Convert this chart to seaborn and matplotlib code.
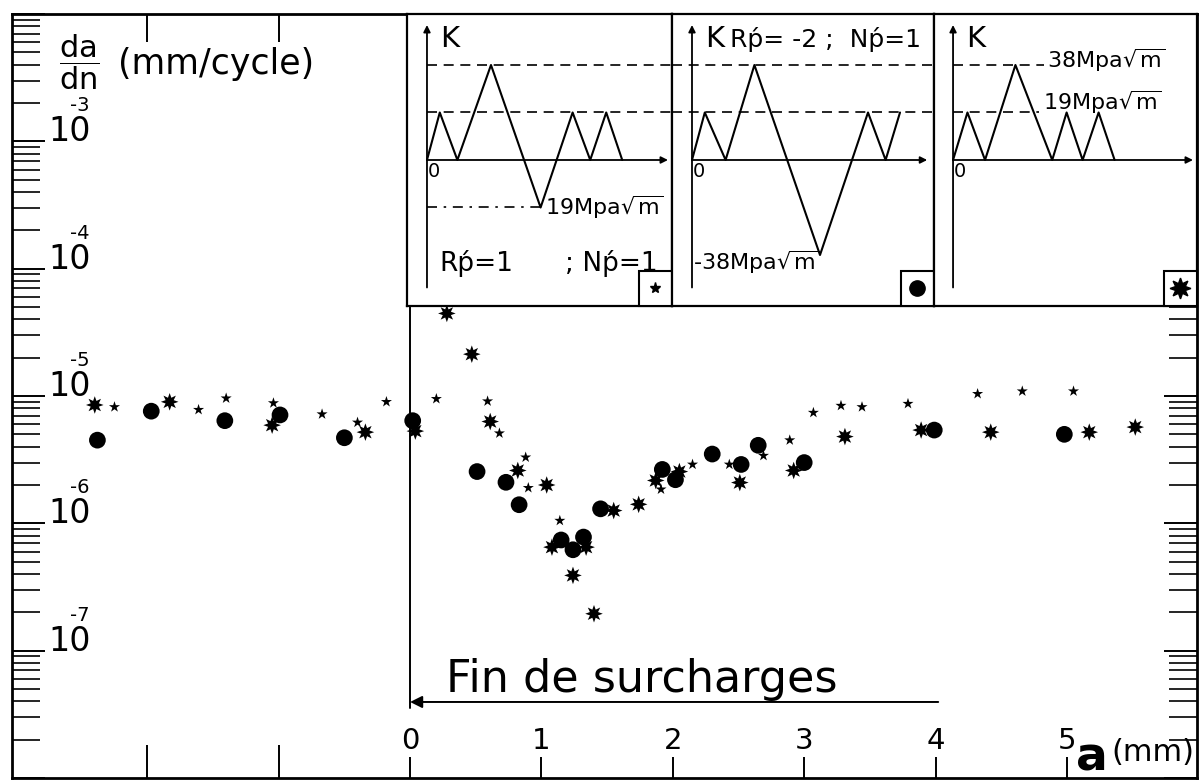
import numpy as np
import pandas as pd
import matplotlib
matplotlib.use("Agg")
import matplotlib.pyplot as plt
from matplotlib.lines import Line2D
from matplotlib.ticker import LogLocator, NullFormatter, FuncFormatter
import seaborn as sns

# ---------------------------------------------------------------------------
# Crack growth rate da/dn (mm/cycle) versus crack length a (mm), measured
# from the end of the overload sequence, for three overload ratios R'p.
# ---------------------------------------------------------------------------
a_rp1 = [-2.25, -1.61, -1.40, -1.04, -0.67, -0.40, -0.18, 0.20, 0.59, 0.68,
         0.88, 0.90, 1.14, 1.91, 2.15, 2.43, 2.69, 2.89, 3.07, 3.28, 3.44,
         3.79, 4.32, 4.66, 5.05]
v_rp1 = [8.2e-6, 7.8e-6, 9.6e-6, 8.8e-6, 7.2e-6, 6.2e-6, 9.0e-6, 9.5e-6,
         9.1e-6, 5.1e-6, 3.3e-6, 1.9e-6, 1.05e-6, 1.85e-6, 2.9e-6, 2.9e-6,
         3.4e-6, 4.5e-6, 7.4e-6, 8.4e-6, 8.2e-6, 8.7e-6, 1.04e-5, 1.09e-5,
         1.09e-5]

a_rpm2 = [-2.38, -1.97, -1.41, -0.99, -0.50, 0.02, 0.51, 0.73, 0.83, 1.15,
          1.24, 1.32, 1.45, 1.92, 2.02, 2.30, 2.52, 2.65, 3.00, 3.99, 4.98]
v_rpm2 = [4.5e-6, 7.6e-6, 6.4e-6, 7.1e-6, 4.7e-6, 6.4e-6, 2.55e-6, 2.1e-6,
          1.4e-6, 7.4e-7, 6.2e-7, 7.8e-7, 1.3e-6, 2.65e-6, 2.2e-6, 3.5e-6,
          2.9e-6, 4.1e-6, 3.0e-6, 5.4e-6, 5.0e-6]

a_rp0 = [-2.40, -1.83, -1.05, -0.34, 0.04, 0.28, 0.47, 0.61, 0.82, 1.04,
         1.08, 1.34, 1.24, 1.40, 1.55, 1.74, 1.87, 2.05, 2.51, 2.92, 3.31,
         3.89, 4.42, 5.17, 5.52]
v_rp0 = [8.5e-6, 9.0e-6, 5.9e-6, 5.2e-6, 5.3e-6, 4.45e-5, 2.13e-5, 6.3e-6,
         2.6e-6, 2.0e-6, 6.5e-7, 6.5e-7, 3.9e-7, 1.95e-7, 1.26e-6, 1.41e-6,
         2.17e-6, 2.55e-6, 2.09e-6, 2.6e-6, 4.8e-6, 5.4e-6, 5.2e-6, 5.2e-6,
         5.7e-6]

x_ticks = [-2, -1, 0, 1, 2, 3, 4, 5]
x_ticklabels = ["", "", "0", "1", "2", "3", "4", "5"]
y_label_exponents = [-3, -4, -5, -6, -7]

# Loading sequences K(t) (MPa*sqrt(m)) drawn in the three insets
t_seq1 = [0, 0.8, 1.9, 4.0, 7.1, 9.1, 10.2, 11.2, 12.2]
k_seq1 = [0, 19, 0, 38, -19, 19, 0, 19, 0]
t_seq2 = [0, 0.8, 2.1, 3.9, 8.0, 11.0, 12.1, 13.0]
k_seq2 = [0, 19, 0, 38, -38, 19, 0, 19]
t_seq3 = [0, 0.9, 2.0, 3.9, 6.2, 7.1, 8.1, 9.1, 10.1]
k_seq3 = [0, 19, 0, 38, 0, 19, 0, 19, 0]

# ---------------------------------------------------------------------------
sns.set_style("white")
plt.rcParams["font.family"] = ["DejaVu Sans"]
plt.rcParams["mathtext.fontset"] = "dejavusans"
for key in ("text.color", "axes.labelcolor", "xtick.color", "ytick.color",
            "axes.edgecolor"):
    plt.rcParams[key] = "black"

fig = plt.figure(figsize=(12.03, 7.82), dpi=100)
ax = fig.add_axes([0.00998, 0.00512, 0.98504, 0.97698])

df = pd.concat([
    pd.DataFrame({"a": a_rp1, "dadn": v_rp1, "essai": "Rp=1"}),
    pd.DataFrame({"a": a_rpm2, "dadn": v_rpm2, "essai": "Rp=-2"}),
    pd.DataFrame({"a": a_rp0, "dadn": v_rp0, "essai": "Rp=0"}),
], ignore_index=True)

MARKERS = {"Rp=1": "*", "Rp=-2": "o", "Rp=0": (8, 1, 0)}
SIZES = {"Rp=1": 70, "Rp=-2": 145, "Rp=0": 160}

sns.scatterplot(data=df, x="a", y="dadn", style="essai", size="essai",
                markers=MARKERS, sizes=SIZES, color="black",
                edgecolor="black", linewidth=0, legend=False, ax=ax, zorder=3)

ax.set_yscale("log")
ax.set_xlim(-3.03, 5.99)
ax.set_ylim(1e-8, 1e-2)
ax.set_xlabel("")
ax.set_ylabel("")

for s in ax.spines.values():
    s.set_linewidth(2.0)
    s.set_color("black")

# x axis: ticks inside, labels above the bottom ticks
ax.set_xticks(x_ticks, labels=x_ticklabels)
ax.tick_params(axis="x", which="major", direction="in", length=15, width=1.4,
               top=True, bottom=True, labelsize=21, pad=-37,
               colors="black")
for i, tick in enumerate(ax.xaxis.get_major_ticks()):
    tick.tick2line.set_markersize(20)
    if x_ticklabels[i] == "":
        tick.tick1line.set_markersize(24)

# y axis: logarithmic, labels drawn inside the frame
ax.yaxis.set_major_locator(LogLocator(base=10, numticks=20))
ax.yaxis.set_minor_locator(LogLocator(base=10, subs=np.arange(2, 10), numticks=20))
ax.yaxis.set_major_formatter(FuncFormatter(
    lambda v, p: "10" if int(round(np.log10(v))) in y_label_exponents else ""))
ax.yaxis.set_minor_formatter(NullFormatter())
ax.tick_params(axis="y", which="major", direction="in", length=24, width=1.4,
               left=True, right=True, labelsize=24, pad=-26, colors="black")
ax.tick_params(axis="y", which="minor", direction="in", length=20, width=1.2,
               left=True, right=True, colors="black")
for lab in ax.get_yticklabels():
    lab.set_horizontalalignment("left")
    lab.set_verticalalignment("baseline")

ytrans = ax.get_yaxis_transform()
for e in y_label_exponents:
    ax.annotate(f"{e}", xy=(0, 10.0 ** e), xycoords=ytrans,
                xytext=(42, 21.5), textcoords="offset points",
                ha="left", va="baseline", fontsize=14)

ax.text(0.040, 0.937, r"$\dfrac{\mathrm{da}}{\mathrm{dn}}$",
        transform=ax.transAxes, fontsize=22, ha="left", va="center")
ax.text(0.0895, 0.934, "(mm/cycle)",
        transform=ax.transAxes, fontsize=25, ha="left", va="center")

# end of overloads marker
xtrans = ax.get_xaxis_transform()
ax.axvline(0, ymin=0.092, ymax=1, color="black", lw=1.4, zorder=2)
ax.annotate("", xy=(0, 0.0995), xytext=(4.02, 0.0995),
            xycoords=xtrans, textcoords=xtrans,
            arrowprops=dict(arrowstyle="-|>", color="black", lw=1.4,
                            shrinkA=0, shrinkB=0, mutation_scale=18))
ax.text(0.27, 0.1126, "Fin de surcharges", transform=xtrans,
        fontsize=32, ha="left", va="baseline")

ax.text(5.06, 0.028, r"$\mathbf{a}$", transform=xtrans, fontsize=34,
        ha="left", va="center")
ax.text(5.34, 0.033, "(mm)", transform=xtrans, fontsize=22,
        ha="left", va="center")


# ---------------------------------------------------------------------------
def draw_panel(rect, xlim, t, k, t_axis_end, marker, msize):
    pax = fig.add_axes(rect)
    pax.set_facecolor("white")
    pax.set_xlim(*xlim)
    pax.set_ylim(-58.4, 58.4)
    pax.set_xticks([])
    pax.set_yticks([])
    for s in pax.spines.values():
        s.set_linewidth(1.6)
        s.set_color("black")
    sns.lineplot(x=t, y=k, ax=pax, color="black", lw=1.5, sort=False,
                 estimator=None)
    pax.set_xlabel("")
    pax.set_ylabel("")
    arrow = dict(arrowstyle="-|>", color="black", lw=1.3, shrinkA=0,
                 shrinkB=0, mutation_scale=10)
    pax.annotate("", xy=(0, 54), xytext=(0, -51), arrowprops=arrow)
    pax.annotate("", xy=(t_axis_end, 0), xytext=(0, 0), arrowprops=arrow)
    pax.text(0.8, 54, "K", fontsize=21, ha="left", va="top")
    pax.text(0.06, -4.8, "0", fontsize=14, ha="left", va="center")
    h = Line2D([], [], ls="none", marker=marker, color="black",
               markersize=msize)
    leg = pax.legend(handles=[h], labels=[""], loc="lower right",
                     borderaxespad=0, frameon=True, fancybox=False,
                     edgecolor="black", framealpha=1, handlelength=1.0,
                     handletextpad=0, borderpad=0.5, fontsize=12)
    leg.get_frame().set_linewidth(1.5)
    return pax


dash = (0, (6, 4))
dashdot = (0, (6, 4, 1.5, 4))

# Panel 1: R'p = 1, N'p = 1
p1 = draw_panel([0.3383, 0.6087, 0.2203, 0.3734], (-1.25, 15.31),
                t_seq1, k_seq1, 15.06, "*", 8)
p1.plot([0, 15.31], [38, 38], ls=dash, lw=1.2, color="black")
p1.plot([0, 15.31], [19, 19], ls=dash, lw=1.2, color="black")
p1.plot([0, 7.1], [-19, -19], ls=dashdot, lw=1.2, color="black")
p1.text(7.4, -18.8, r"19Mpa$\sqrt{\mathrm{m}}$", fontsize=16,
        ha="left", va="center")
p1.text(0.8, -41.5, "Rṕ=1", fontsize=19, ha="left", va="center")
p1.text(8.6, -41.5, "; Nṕ=1", fontsize=19, ha="left", va="center")

# Panel 2: R'p = -2, N'p = 1
p2 = draw_panel([0.5586, 0.6087, 0.2178, 0.3734], (-1.25, 15.125),
                t_seq2, k_seq2, 14.7, "o", 11)
p2.plot([-1.25, 15.125], [38, 38], ls=dash, lw=1.2, color="black")
p2.plot([-1.25, 15.125], [19, 19], ls=dash, lw=1.2, color="black")
p2.text(2.4, 53, "Rṕ= -2 ;  Nṕ=1", fontsize=18, ha="left", va="top")
p2.text(0.06, -40.8, r"-38Mpa$\sqrt{\mathrm{m}}$", fontsize=16,
        ha="left", va="center")

# Panel 3: R'p = 0
p3 = draw_panel([0.7764, 0.6087, 0.2186, 0.3734], (-1.19, 15.25),
                t_seq3, k_seq3, 15.0, (8, 1, 0), 15)
p3.plot([0, 5.7], [38, 38], ls=dash, lw=1.2, color="black")
p3.plot([0, 5.4], [19, 19], ls=dash, lw=1.2, color="black")
p3.text(5.9, 40, r"38Mpa$\sqrt{\mathrm{m}}$", fontsize=16,
        ha="left", va="center")
p3.text(5.6, 23, r"19Mpa$\sqrt{\mathrm{m}}$", fontsize=16,
        ha="left", va="center")

fig.savefig("out.png", dpi=100)
